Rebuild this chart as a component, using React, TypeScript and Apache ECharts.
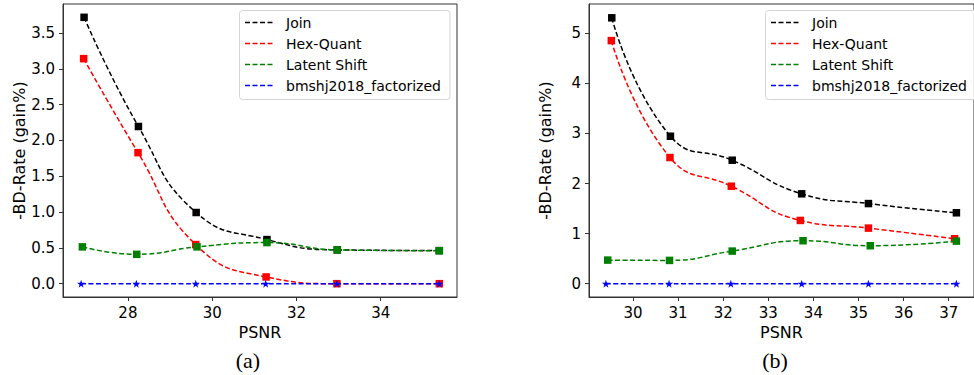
import React, { useEffect, useRef } from "react";
import * as echarts from "echarts";

const seriesNames = ["Join", "Hex-Quant", "Latent Shift", "bmshj2018_factorized"];
const seriesColors = ["#000000", "#ff0000", "#008000", "#0000ff"];

// Panel (a)
const aJoinX = [26.96, 28.25, 29.62, 31.3, 32.97, 35.39];
const aJoinY = [3.72, 2.195, 0.994, 0.616, 0.472, 0.462];
const aHexX = [26.95, 28.24, 29.61, 31.28, 32.96, 35.39];
const aHexY = [3.143, 1.83, 0.546, 0.094, 0.0, 0.0];
const aLatX = [26.92, 28.21, 29.64, 31.3, 32.97, 35.39];
const aLatY = [0.514, 0.41, 0.514, 0.574, 0.472, 0.46];
const aBmsX = [26.89, 28.2, 29.61, 31.27, 32.96, 35.39];
const aBmsY = [0, 0, 0, 0, 0, 0];

// Panel (b)
const bJoinX = [29.53, 30.83, 32.2, 33.74, 35.22, 37.17];
const bJoinY = [5.31, 2.945, 2.466, 1.795, 1.6, 1.416];
const bHexX = [29.52, 30.82, 32.18, 33.71, 35.22, 37.13];
const bHexY = [4.855, 2.52, 1.947, 1.263, 1.11, 0.898];
const bLatX = [29.44, 30.81, 32.2, 33.77, 35.26, 37.17];
const bLatY = [0.471, 0.465, 0.651, 0.858, 0.758, 0.85];
const bBmsX = [29.4, 30.8, 32.17, 33.74, 35.22, 37.17];
const bBmsY = [0, 0, 0, 0, 0, 0];

const aXTicks = [28, 30, 32, 34];
const aYTicks = [0, 0.5, 1, 1.5, 2, 2.5, 3, 3.5];
const bXTicks = [30, 31, 32, 33, 34, 35, 36, 37];
const bYTicks = [0, 1, 2, 3, 4, 5];

const STAR =
  "path://M0,-10L2.35,-3.24L9.51,-3.09L3.8,1.24L5.88,8.09L0,4L-5.88,8.09L-3.8,1.24L-9.51,-3.09L-2.35,-3.24Z";

const FONT = "DejaVu Sans";
const AXIS_COLOR = "#333333";

function zip(xs: number[], ys: number[]) {
  return xs.map((x, i) => [x, ys[i]]);
}

function makeSeries(idx: number, panel: { xs: number[][]; ys: number[][] }) {
  return seriesNames.map((name, i) => ({
    name,
    type: "line",
    xAxisIndex: idx,
    yAxisIndex: idx,
    data: zip(panel.xs[i], panel.ys[i]),
    smooth: 0.5,
    symbol: i === 3 ? STAR : "rect",
    symbolSize: i === 3 ? 8 : 7.5,
    showSymbol: true,
    color: seriesColors[i],
    itemStyle: { color: seriesColors[i] },
    lineStyle: { color: seriesColors[i], width: 1.5, type: [5, 2.5] },
    z: 2 + i,
    clip: false,
  }));
}

function xAxis(idx: number, min: number, max: number, ticks: number[]) {
  return {
    type: "value",
    gridIndex: idx,
    min,
    max,
    name: "PSNR",
    nameLocation: "middle",
    nameGap: 26,
    nameTextStyle: { fontSize: 16, fontFamily: FONT, color: "#000" },
    axisLine: { show: true, onZero: false, lineStyle: { color: AXIS_COLOR, width: 1 } },
    axisTick: {
      show: true,
      inside: false,
      length: 4,
      customValues: ticks,
      lineStyle: { color: AXIS_COLOR },
    },
    axisLabel: {
      show: true,
      customValues: ticks,
      margin: 8,
      fontSize: 15,
      fontFamily: FONT,
      color: "#000",
      formatter: (v: number) => String(v),
    },
    splitLine: { show: false },
  };
}

function yAxis(idx: number, min: number, max: number, ticks: number[], decimals: number) {
  return {
    type: "value",
    gridIndex: idx,
    min,
    max,
    name: "-BD-Rate (gain%)",
    nameLocation: "middle",
    nameGap: 36,
    nameRotate: 90,
    nameTextStyle: { fontSize: 16, fontFamily: FONT, color: "#000" },
    axisLine: { show: true, onZero: false, lineStyle: { color: AXIS_COLOR, width: 1 } },
    axisTick: {
      show: true,
      inside: false,
      length: 4,
      customValues: ticks,
      lineStyle: { color: AXIS_COLOR },
    },
    axisLabel: {
      show: true,
      customValues: ticks,
      margin: 8,
      fontSize: 15,
      fontFamily: FONT,
      color: "#000",
      formatter: (v: number) => v.toFixed(decimals),
    },
    splitLine: { show: false },
  };
}

function legendGraphic(boxX: number, boxW: number, lineX1: number, lineX2: number, textX: number) {
  const rows = [22.5, 43.5, 64.5, 85.5];
  const children: any[] = [
    {
      type: "rect",
      shape: { x: boxX, y: 10.5, width: boxW, height: 89, r: 3 },
      style: { fill: "rgba(255,255,255,0.85)", stroke: "#d5d5d5", lineWidth: 1 },
    },
  ];
  seriesNames.forEach((name, i) => {
    children.push({
      type: "line",
      shape: { x1: lineX1, y1: rows[i], x2: lineX2, y2: rows[i] },
      style: { stroke: seriesColors[i], lineWidth: 1.5, lineDash: [5, 2.5] },
    });
    children.push({
      type: "text",
      style: {
        text: name,
        x: textX,
        y: rows[i],
        fill: "#000",
        font: `14px "${FONT}"`,
        align: "left",
        verticalAlign: "middle",
      },
    });
  });
  return { type: "group", z: 100, children };
}

export default function App() {
  const ref = useRef<HTMLDivElement>(null);

  useEffect(() => {
    if (!ref.current) return;
    const chart = echarts.init(ref.current, undefined, { renderer: "svg" });
    const option: any = {
      animation: false,
      backgroundColor: "#ffffff",
      textStyle: { fontFamily: FONT },
      grid: [
        { left: 63, top: 4, width: 394, height: 293, show: true, borderColor: AXIS_COLOR, borderWidth: 1, backgroundColor: "transparent" },
        { left: 589, top: 4, width: 394, height: 293, show: true, borderColor: AXIS_COLOR, borderWidth: 1, backgroundColor: "transparent" },
      ],
      xAxis: [xAxis(0, 26.46, 35.81, aXTicks), xAxis(1, 29.025, 37.56, bXTicks)],
      yAxis: [yAxis(0, -0.186, 3.906, aYTicks, 1), yAxis(1, -0.266, 5.586, bYTicks, 0)],
      series: [
        ...makeSeries(0, { xs: [aJoinX, aHexX, aLatX, aBmsX], ys: [aJoinY, aHexY, aLatY, aBmsY] }),
        ...makeSeries(1, { xs: [bJoinX, bHexX, bLatX, bBmsX], ys: [bJoinY, bHexY, bLatY, bBmsY] }),
      ],
      graphic: [
        legendGraphic(239.5, 210.5, 245, 273.5, 286),
        legendGraphic(765.5, 220, 771, 799.5, 812),
        {
          type: "text",
          z: 100,
          style: {
            text: "(a)",
            x: 248,
            y: 360,
            fill: "#000",
            font: '22px "Liberation Serif"',
            align: "center",
            verticalAlign: "middle",
          },
        },
        {
          type: "text",
          z: 100,
          style: {
            text: "(b)",
            x: 775,
            y: 360,
            fill: "#000",
            font: '22px "Liberation Serif"',
            align: "center",
            verticalAlign: "middle",
          },
        },
      ],
    };
    chart.setOption(option);
    return () => chart.dispose();
  }, []);

  return (
    <div
      ref={ref}
      style={{ position: "absolute", left: 0, top: 0, width: 974, height: 375, background: "#fff" }}
    />
  );
}
